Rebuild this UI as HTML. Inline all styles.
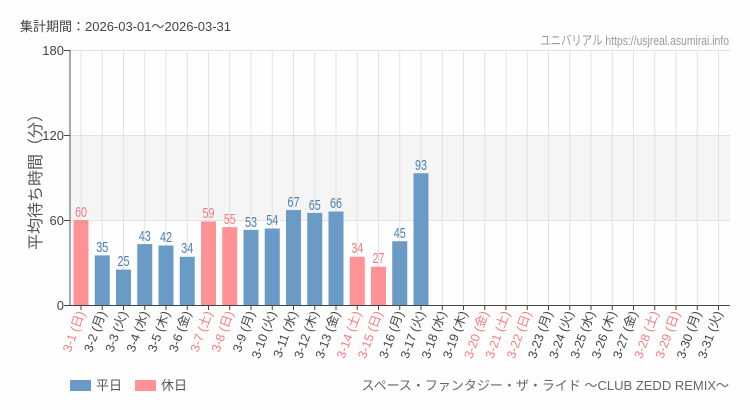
<!DOCTYPE html>
<html><head><meta charset="utf-8"><style>
body{margin:0;background:#fdfefd;}
svg{display:block;font-family:"Liberation Sans","Noto Sans CJK JP",sans-serif;}
.v{font-family:"Liberation Sans","Noto Sans CJK JP",sans-serif;font-size:15px;text-anchor:middle;}
.b{fill:#4a7fb5}.r{fill:#f77b80}
.xl{font-size:12.5px;text-anchor:end;}
</style></head><body>
<svg width="750" height="410" viewBox="0 0 750 410" xmlns="http://www.w3.org/2000/svg">
<rect width="750" height="410" fill="#fdfefd"/>
<text x="20" y="31" font-size="13" fill="#444">集計期間：2026-03-01～2026-03-31</text>
<text transform="translate(729,45) scale(0.8,1)" font-size="13" fill="#999" text-anchor="end">ユニバリアル  https://usjreal.asumirai.info</text>
<rect x="70" y="135" width="660" height="85" fill="#f4f5f4"/>
<g stroke="#e2e2e2" stroke-width="1">
<line x1="70" y1="50.5" x2="730" y2="50.5"/><line x1="70" y1="135.5" x2="730" y2="135.5"/><line x1="70" y1="220.5" x2="730" y2="220.5"/>
<path d="M81 50V305M102.25 50V305M123.5 50V305M144.75 50V305M166 50V305M187.25 50V305M208.5 50V305M229.75 50V305M251 50V305M272.25 50V305M293.5 50V305M314.75 50V305M336 50V305M357.25 50V305M378.5 50V305M399.75 50V305M421 50V305M442.25 50V305M463.5 50V305M484.75 50V305M506 50V305M527.25 50V305M548.5 50V305M569.75 50V305M591 50V305M612.25 50V305M633.5 50V305M654.75 50V305M676 50V305M697.25 50V305M718.5 50V305"/>
</g>
<g fill="#6a9ac6">
<rect x="94.75" y="255.4" width="15" height="49.6"/><rect x="116" y="269.6" width="15" height="35.4"/><rect x="137.25" y="244.1" width="15" height="60.9"/><rect x="158.5" y="245.5" width="15" height="59.5"/><rect x="179.75" y="256.8" width="15" height="48.2"/><rect x="243.5" y="229.9" width="15" height="75.1"/><rect x="264.75" y="228.5" width="15" height="76.5"/><rect x="286" y="210.1" width="15" height="94.9"/><rect x="307.25" y="212.9" width="15" height="92.1"/><rect x="328.5" y="211.5" width="15" height="93.5"/><rect x="392.25" y="241.25" width="15" height="63.75"/><rect x="413.5" y="173.25" width="15" height="131.75"/>
</g>
<g fill="#fe9294">
<rect x="73.5" y="220" width="15" height="85"/><rect x="201" y="221.4" width="15" height="83.6"/><rect x="222.25" y="227.1" width="15" height="77.9"/><rect x="349.75" y="256.8" width="15" height="48.2"/><rect x="371" y="266.75" width="15" height="38.25"/>
</g>
<g class="v">
<text class="r" transform="translate(81,217) scale(0.72,1)">60</text>
<text class="b" transform="translate(102.25,252) scale(0.72,1)">35</text>
<text class="b" transform="translate(123.5,266) scale(0.72,1)">25</text>
<text class="b" transform="translate(144.75,241) scale(0.72,1)">43</text>
<text class="b" transform="translate(166,242) scale(0.72,1)">42</text>
<text class="b" transform="translate(187.25,253) scale(0.72,1)">34</text>
<text class="r" transform="translate(208.5,218) scale(0.72,1)">59</text>
<text class="r" transform="translate(229.75,224) scale(0.72,1)">55</text>
<text class="b" transform="translate(251,227) scale(0.72,1)">53</text>
<text class="b" transform="translate(272.25,225) scale(0.72,1)">54</text>
<text class="b" transform="translate(293.5,207) scale(0.72,1)">67</text>
<text class="b" transform="translate(314.75,210) scale(0.72,1)">65</text>
<text class="b" transform="translate(336,208) scale(0.72,1)">66</text>
<text class="r" transform="translate(357.25,253) scale(0.72,1)">34</text>
<text class="r" transform="translate(378.5,263) scale(0.72,1)">27</text>
<text class="b" transform="translate(399.75,238) scale(0.72,1)">45</text>
<text class="b" transform="translate(421,170) scale(0.72,1)">93</text>
</g>
<line x1="70" y1="50" x2="70" y2="305.5" stroke="#555"/>
<line x1="70" y1="305.5" x2="730" y2="305.5" stroke="#444"/>
<g stroke="#444"><path d="M64 50.5H70M64 135.5H70M64 220.5H70M64 305.5H70"/>
<path d="M81 305V310M102.25 305V310M123.5 305V310M144.75 305V310M166 305V310M187.25 305V310M208.5 305V310M229.75 305V310M251 305V310M272.25 305V310M293.5 305V310M314.75 305V310M336 305V310M357.25 305V310M378.5 305V310M399.75 305V310M421 305V310M442.25 305V310M463.5 305V310M484.75 305V310M506 305V310M527.25 305V310M548.5 305V310M569.75 305V310M591 305V310M612.25 305V310M633.5 305V310M654.75 305V310M676 305V310M697.25 305V310M718.5 305V310"/></g>
<g font-size="13" fill="#444" text-anchor="end">
<text x="64" y="55">180</text><text x="64" y="140">120</text><text x="64" y="225">60</text><text x="64" y="310">0</text>
</g>
<text transform="translate(41,178) rotate(-90)" font-size="16" fill="#555" text-anchor="middle">平均待ち時間（分）</text>
<g class="xl" fill="#444">
<text fill="#f77b80" transform="translate(85,313) rotate(-70)">3-1 (日)</text>
<text transform="translate(106.25,313) rotate(-70)">3-2 (月)</text>
<text transform="translate(127.5,313) rotate(-70)">3-3 (火)</text>
<text transform="translate(148.75,313) rotate(-70)">3-4 (水)</text>
<text transform="translate(170,313) rotate(-70)">3-5 (木)</text>
<text transform="translate(191.25,313) rotate(-70)">3-6 (金)</text>
<text fill="#f77b80" transform="translate(212.5,313) rotate(-70)">3-7 (土)</text>
<text fill="#f77b80" transform="translate(233.75,313) rotate(-70)">3-8 (日)</text>
<text transform="translate(255,313) rotate(-70)">3-9 (月)</text>
<text transform="translate(276.25,313) rotate(-70)">3-10 (火)</text>
<text transform="translate(297.5,313) rotate(-70)">3-11 (水)</text>
<text transform="translate(318.75,313) rotate(-70)">3-12 (木)</text>
<text transform="translate(340,313) rotate(-70)">3-13 (金)</text>
<text fill="#f77b80" transform="translate(361.25,313) rotate(-70)">3-14 (土)</text>
<text fill="#f77b80" transform="translate(382.5,313) rotate(-70)">3-15 (日)</text>
<text transform="translate(403.75,313) rotate(-70)">3-16 (月)</text>
<text transform="translate(425,313) rotate(-70)">3-17 (火)</text>
<text transform="translate(446.25,313) rotate(-70)">3-18 (水)</text>
<text transform="translate(467.5,313) rotate(-70)">3-19 (木)</text>
<text fill="#f77b80" transform="translate(488.75,313) rotate(-70)">3-20 (金)</text>
<text fill="#f77b80" transform="translate(510,313) rotate(-70)">3-21 (土)</text>
<text fill="#f77b80" transform="translate(531.25,313) rotate(-70)">3-22 (日)</text>
<text transform="translate(552.5,313) rotate(-70)">3-23 (月)</text>
<text transform="translate(573.75,313) rotate(-70)">3-24 (火)</text>
<text transform="translate(595,313) rotate(-70)">3-25 (水)</text>
<text transform="translate(616.25,313) rotate(-70)">3-26 (木)</text>
<text transform="translate(637.5,313) rotate(-70)">3-27 (金)</text>
<text fill="#f77b80" transform="translate(658.75,313) rotate(-70)">3-28 (土)</text>
<text fill="#f77b80" transform="translate(680,313) rotate(-70)">3-29 (日)</text>
<text transform="translate(701.25,313) rotate(-70)">3-30 (月)</text>
<text transform="translate(722.5,313) rotate(-70)">3-31 (火)</text>
</g>
<rect x="70" y="380" width="21" height="11" fill="#6a9ac6"/>
<text x="96" y="390" font-size="13" fill="#555">平日</text>
<rect x="135" y="380" width="21" height="11" fill="#fe9294"/>
<text x="161" y="390" font-size="13" fill="#555">休日</text>
<text x="729" y="390" font-size="13" fill="#666" text-anchor="end">スペース・ファンタジー・ザ・ライド ～CLUB ZEDD REMIX～</text>
</svg>
</body></html>
